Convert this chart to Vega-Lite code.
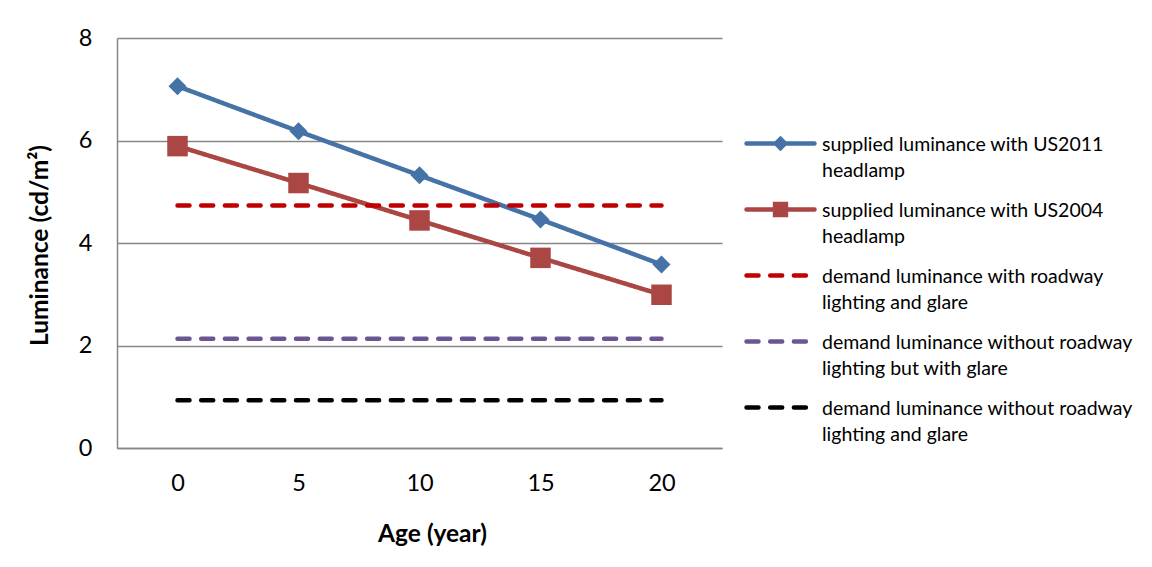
{
  "$schema": "https://vega.github.io/schema/vega-lite/v6.json",
  "autosize": {"type": "none"},
  "width": 605,
  "height": 410,
  "padding": {"left": 117, "top": 38, "right": 430, "bottom": 119},
  "background": "#ffffff",
  "config": {
    "view": {"stroke": null},
    "font": "Lato"
  },
  "data": {
    "values": [
      {"age": 0, "series": "supplied luminance with US2011 headlamp", "value": 7.06},
      {"age": 5, "series": "supplied luminance with US2011 headlamp", "value": 6.18},
      {"age": 10, "series": "supplied luminance with US2011 headlamp", "value": 5.32},
      {"age": 15, "series": "supplied luminance with US2011 headlamp", "value": 4.46},
      {"age": 20, "series": "supplied luminance with US2011 headlamp", "value": 3.58},
      {"age": 0, "series": "supplied luminance with US2004 headlamp", "value": 5.89},
      {"age": 5, "series": "supplied luminance with US2004 headlamp", "value": 5.17},
      {"age": 10, "series": "supplied luminance with US2004 headlamp", "value": 4.44},
      {"age": 15, "series": "supplied luminance with US2004 headlamp", "value": 3.71},
      {"age": 20, "series": "supplied luminance with US2004 headlamp", "value": 2.99},
      {"age": 0, "series": "demand luminance with roadway lighting and glare", "value": 4.73},
      {"age": 5, "series": "demand luminance with roadway lighting and glare", "value": 4.73},
      {"age": 10, "series": "demand luminance with roadway lighting and glare", "value": 4.73},
      {"age": 15, "series": "demand luminance with roadway lighting and glare", "value": 4.73},
      {"age": 20, "series": "demand luminance with roadway lighting and glare", "value": 4.73},
      {"age": 0, "series": "demand luminance without roadway lighting but with glare", "value": 2.13},
      {"age": 5, "series": "demand luminance without roadway lighting but with glare", "value": 2.13},
      {"age": 10, "series": "demand luminance without roadway lighting but with glare", "value": 2.13},
      {"age": 15, "series": "demand luminance without roadway lighting but with glare", "value": 2.13},
      {"age": 20, "series": "demand luminance without roadway lighting but with glare", "value": 2.13},
      {"age": 0, "series": "demand luminance without roadway lighting and glare", "value": 0.93},
      {"age": 5, "series": "demand luminance without roadway lighting and glare", "value": 0.93},
      {"age": 10, "series": "demand luminance without roadway lighting and glare", "value": 0.93},
      {"age": 15, "series": "demand luminance without roadway lighting and glare", "value": 0.93},
      {"age": 20, "series": "demand luminance without roadway lighting and glare", "value": 0.93}
    ]
  },
  "encoding": {
    "x": {
      "field": "age",
      "type": "ordinal",
      "scale": {"type": "point", "padding": 0.5},
      "axis": {
        "title": "Age (year)",
        "titleFont": "Lato",
        "titleFontSize": 24.5,
        "titleFontWeight": "bold",
        "titleColor": "#000000",
        "titleX": 315,
        "titleY": 86,
        "titleBaseline": "middle",
        "titleAlign": "center",
        "labelAngle": 0,
        "labelFont": "Lato",
        "labelFontSize": 23.5,
        "labelColor": "#000000",
        "labelBaseline": "middle",
        "labelPadding": 35,
        "ticks": false,
        "tickSize": 0,
        "domainColor": "#868686",
        "domainWidth": 1.5,
        "grid": false
      }
    },
    "y": {
      "field": "value",
      "type": "quantitative",
      "scale": {"domain": [0, 8], "nice": false, "zero": true},
      "axis": {
        "title": "Luminance (cd/m²)",
        "titleFont": "Lato",
        "titleFontSize": 24.5,
        "titleFontWeight": "bold",
        "titleColor": "#000000",
        "titleAngle": -90,
        "titleX": -77,
        "titleY": 207,
        "titleBaseline": "middle",
        "titleAlign": "center",
        "values": [0, 2, 4, 6, 8],
        "labelFont": "Lato",
        "labelFontSize": 23.5,
        "labelColor": "#000000",
        "labelPadding": 25,
        "ticks": false,
        "tickSize": 0,
        "domainColor": "#868686",
        "domainWidth": 1.5,
        "grid": true,
        "gridColor": "#868686",
        "gridWidth": 1.3
      }
    }
  },
  "layer": [
    {
      "transform": [{"filter": "substring(datum.series, 0, 8) === 'supplied'"}],
      "mark": {"type": "line", "strokeWidth": 4.5, "strokeCap": "round", "strokeJoin": "round"},
      "encoding": {
        "color": {"field": "series", "type": "nominal",
          "scale": {
            "domain": ["supplied luminance with US2011 headlamp", "supplied luminance with US2004 headlamp", "demand luminance with roadway lighting and glare", "demand luminance without roadway lighting but with glare", "demand luminance without roadway lighting and glare"],
            "range": ["#4572A7", "#AA4643", "#C00000", "#6B5593", "#000000"]
          }
        },
        "strokeDash": {"field": "series", "type": "nominal",
          "scale": {
            "domain": ["supplied luminance with US2011 headlamp", "supplied luminance with US2004 headlamp", "demand luminance with roadway lighting and glare", "demand luminance without roadway lighting but with glare", "demand luminance without roadway lighting and glare"],
            "range": [[1, 0], [1, 0], [12, 11.7], [12, 11.7], [12, 11.7]]
          }
        }
      }
    },
    {
      "transform": [{"filter": "datum.series === 'supplied luminance with US2011 headlamp'"}],
      "mark": {"type": "point", "shape": "diamond", "filled": true, "size": 324, "color": "#4572A7", "opacity": 1}
    },
    {
      "transform": [{"filter": "datum.series === 'supplied luminance with US2004 headlamp'"}],
      "mark": {"type": "point", "shape": "square", "filled": true, "size": 420, "color": "#AA4643", "opacity": 1}
    },
    {
      "transform": [{"filter": "substring(datum.series, 0, 6) === 'demand'"}],
      "mark": {"type": "line", "strokeWidth": 4.5, "strokeCap": "round", "strokeJoin": "round"},
      "encoding": {
        "color": {"field": "series", "type": "nominal",
          "scale": {
            "domain": ["supplied luminance with US2011 headlamp", "supplied luminance with US2004 headlamp", "demand luminance with roadway lighting and glare", "demand luminance without roadway lighting but with glare", "demand luminance without roadway lighting and glare"],
            "range": ["#4572A7", "#AA4643", "#C00000", "#6B5593", "#000000"]
          },
          "legend": {
            "title": null,
            "orient": "none",
            "legendX": 627,
            "legendY": 86,
            "symbolSize": 1156,
            "symbolStrokeWidth": 4.5,
            "labelFont": "Lato",
            "labelFontSize": 19.5,
            "labelColor": "#000000",
            "labelLimit": 500,
            "labelOffset": 39,
            "labelBaseline": "alphabetic",
            "rowPadding": 10,
            "labelExpr": "[join(slice(split(datum.label, ' '), 0, 4), ' '), join(slice(split(datum.label, ' '), 4), ' ')]",
            "encode": {
              "symbols": {
                "update": {
                  "shape": {"signal": "datum.value === 'supplied luminance with US2011 headlamp' ? 'M-1,0L3,0M1,-0.27L1.27,0L1,0.27L0.73,0Z' : datum.value === 'supplied luminance with US2004 headlamp' ? 'M-1,0L3,0M0.68,-0.32L1.32,-0.32L1.32,0.32L0.68,0.32Z' : 'M-1,0L3,0'"},
                  "fill": {"signal": "datum.value === 'supplied luminance with US2011 headlamp' ? '#4572A7' : datum.value === 'supplied luminance with US2004 headlamp' ? '#AA4643' : 'transparent'"},
                  "strokeCap": {"value": "round"},
                  "opacity": {"value": 1}
                }
              },
              "labels": {
                "update": {
                  "dy": {"value": 7},
                  "lineHeight": {"value": 26}
                }
              }
            }
          }
        },
        "strokeDash": {"field": "series", "type": "nominal",
          "scale": {
            "domain": ["supplied luminance with US2011 headlamp", "supplied luminance with US2004 headlamp", "demand luminance with roadway lighting and glare", "demand luminance without roadway lighting but with glare", "demand luminance without roadway lighting and glare"],
            "range": [[1, 0], [1, 0], [12, 11.7], [12, 11.7], [12, 11.7]]
          }
        }
      }
    }
  ]
}
